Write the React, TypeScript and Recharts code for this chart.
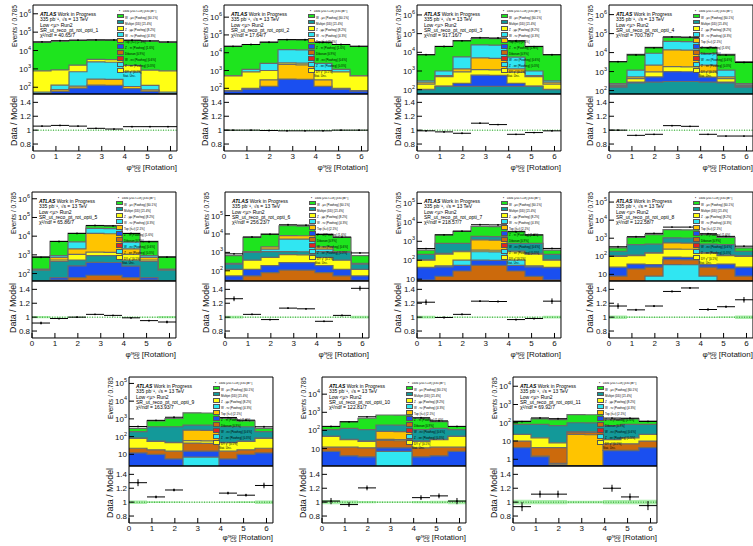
import React from 'react'
import { ComposedChart, Area, Scatter, ErrorBar, XAxis, YAxis, ReferenceLine } from 'recharts'

const TAU = 2 * Math.PI
const BIN = TAU / 8
const EDGES = Array.from({ length: 9 }, (_, i) => i * BIN)
const CENTERS = Array.from({ length: 8 }, (_, i) => (i + 0.5) * BIN)
const X_MAJOR = [0, 1, 2, 3, 4, 5, 6]
const X_MINOR = Array.from({ length: 32 }, (_, i) => i * 0.2)
const R_MAJOR = [0.8, 1, 1.2, 1.4]
const R_MINOR = Array.from({ length: 17 }, (_, i) => 0.7 + i * 0.05)
const R_DOMAIN = [0.7, 1.52]

const COLORS: Record<string, string> = {
  green: '#1ee41e',
  cyan: '#30e6f2',
  gold: '#ffc400',
  yellow: '#ffff14',
  blue: '#1a4ff0',
  teal: '#139999',
  orange: '#cc6a0c',
  red: '#e02222',
}

const CHI2 = ['40.65/7', '17.64/7', '917.16/7', '700.78/7', '65.86/7', '256.23/7', '218.57/7', '122.58/7', '163.93/7', '122.81/7', '69.92/7']

// stack tops per layer, bottom -> top
const P1_ORDER = ['blue', 'gold', 'cyan', 'yellow', 'green']
const P1_TOPS = [
  [44, 60, 90, 130, 125, 85, 60, 44],
  [48, 75, 115, 280, 270, 110, 72, 48],
  [55, 130, 700, 2400, 2300, 680, 125, 55],
  [780, 880, 1600, 3300, 3200, 1550, 860, 780],
  [28000, 32000, 35000, 37000, 37000, 35000, 32000, 28000],
]
const P2_ORDER = ['blue', 'gold', 'yellow', 'cyan', 'green']
const P2_TOPS = [
  [70, 90, 130, 330, 320, 130, 90, 70],
  [75, 100, 300, 2200, 2100, 300, 100, 75],
  [500, 840, 1000, 2700, 2600, 1000, 840, 500],
  [520, 1150, 2500, 15000, 14500, 2500, 1150, 520],
  [23000, 29000, 39000, 55000, 54000, 39000, 29000, 23000],
]
const P3_ORDER = ['teal', 'blue', 'yellow', 'gold', 'cyan', 'green']
const P3_TOPS = [
  [100, 150, 150, 150, 150, 150, 150, 100],
  [105, 155, 220, 600, 580, 220, 155, 105],
  [200, 500, 890, 1200, 1150, 870, 500, 200],
  [250, 560, 1300, 5000, 4800, 1300, 560, 250],
  [300, 1000, 5700, 25000, 24000, 5600, 1000, 300],
  [7500, 21000, 43000, 55000, 54000, 43000, 21000, 7500],
]
const P4_ORDER = ['teal', 'blue', 'yellow', 'gold', 'cyan', 'green']
const P4_TOPS = [
  [150, 250, 280, 300, 300, 280, 250, 150],
  [160, 280, 520, 1000, 980, 510, 280, 160],
  [185, 420, 960, 1800, 1750, 950, 420, 185],
  [200, 520, 2200, 14000, 13500, 2200, 520, 200],
  [230, 1200, 9200, 39000, 38000, 9000, 1200, 230],
  [3300, 8100, 19000, 63000, 62000, 19000, 8100, 3300],
]
const P5_ORDER = ['orange', 'blue', 'teal', 'yellow', 'gold', 'cyan', 'green']
const P5_TOPS = [
  [38, 45, 60, 80, 80, 60, 45, 38],
  [40, 60, 260, 400, 390, 250, 60, 40],
  [150, 450, 530, 920, 900, 520, 450, 150],
  [155, 530, 1050, 1400, 1350, 1050, 530, 155],
  [165, 740, 2100, 14000, 13500, 2100, 740, 165],
  [175, 900, 4900, 26000, 25000, 4800, 900, 175],
  [810, 5300, 14000, 36000, 35000, 14000, 5300, 810],
]
const P6_ORDER = ['orange', 'blue', 'yellow', 'teal', 'cyan', 'gold', 'green']
const P6_TOPS = [
  [30, 53, 80, 110, 108, 80, 53, 30],
  [53, 120, 190, 280, 275, 190, 120, 53],
  [120, 380, 530, 750, 740, 530, 380, 120],
  [230, 1000, 1100, 1100, 1080, 1100, 1000, 230],
  [240, 1050, 1500, 5300, 5200, 1500, 1050, 240],
  [250, 1100, 2000, 8100, 8000, 2000, 1100, 250],
  [660, 6600, 10000, 28000, 27000, 10000, 6600, 660],
]
const P7_ORDER = ['orange', 'blue', 'cyan', 'yellow', 'gold', 'teal', 'green']
const P7_TOPS = [
  [9, 14, 27, 54, 53, 27, 14, 9],
  [40, 45, 54, 100, 98, 54, 45, 40],
  [42, 50, 100, 280, 275, 100, 50, 42],
  [100, 210, 280, 340, 335, 280, 210, 100],
  [105, 230, 300, 1200, 1150, 300, 230, 105],
  [205, 780, 780, 1800, 1750, 780, 780, 205],
  [340, 2200, 3300, 6100, 6000, 3300, 2200, 340],
]
const P8_ORDER = ['cyan', 'orange', 'blue', 'yellow', 'gold', 'teal', 'green']
const P8_TOPS = [
  [4.3, 4.3, 8, 35, 34, 8, 4.3, 4.3],
  [8, 20, 25, 65, 64, 25, 20, 8],
  [25, 37, 35, 90, 88, 35, 37, 25],
  [100, 110, 150, 250, 245, 150, 110, 100],
  [105, 115, 160, 550, 540, 160, 115, 105],
  [190, 440, 470, 1050, 1030, 470, 440, 190],
  [290, 1100, 1600, 3000, 2900, 1600, 1100, 290],
]
const P9_ORDER = ['cyan', 'blue', 'orange', 'yellow', 'gold', 'teal', 'green']
const P9_TOPS = [
  [2.2, 2.2, 2.2, 7, 7, 2.2, 2.2, 2.2],
  [12, 10, 5.5, 15, 15, 5.5, 10, 12],
  [22, 18, 15, 43, 42, 15, 18, 22],
  [80, 53, 46, 60, 58, 46, 53, 80],
  [82, 55, 48, 230, 225, 48, 55, 82],
  [190, 360, 360, 450, 440, 360, 360, 190],
  [290, 770, 1050, 2200, 2150, 1050, 770, 290],
]
const P10_ORDER = ['cyan', 'blue', 'orange', 'yellow', 'gold', 'teal', 'green']
const P10_TOPS = [
  [1.1, 1.1, 1.1, 7, 7, 1.1, 1.1, 1.1],
  [7, 4, 3.5, 11, 11, 3.5, 4, 7],
  [12, 12, 11, 28, 27, 11, 12, 12],
  [47, 31, 25, 32, 31, 25, 31, 47],
  [48, 32, 26, 88, 86, 26, 32, 48],
  [110, 130, 110, 200, 195, 110, 130, 110],
  [165, 310, 470, 710, 700, 470, 310, 165],
]
const P11_ORDER = ['blue', 'gold', 'orange', 'yellow', 'teal', 'green']
const P11_TOPS = [
  [4.3, 1.4, 0.5, 0.45, 0.45, 3, 3, 4.3],
  [4.4, 1.5, 0.6, 23, 22, 3.1, 3.1, 4.4],
  [10, 4.3, 4.3, 31, 30, 7, 7, 10],
  [23, 15, 8, 33, 32, 12, 15, 23],
  [81, 81, 70, 100, 98, 70, 81, 81],
  [124, 165, 150, 280, 275, 150, 165, 124],
]

// data / model
const P1_RATIO = [1.058, 1.068, 1.058, 1.026, 1.016, 1.05, 1.05, 1.05]
const P2_RATIO = [1.0, 1.0, 0.995, 0.99, 0.99, 0.99, 1.0, 1.0]
const P3_RATIO = [0.99, 0.975, 0.955, 1.1, 1.08, 0.94, 0.965, 0.99]
const P4_RATIO = [1.0, 0.925, 0.94, 1.065, 1.055, 0.94, 0.915, 0.915]
const P5_RATIO = [0.915, 0.98, 1.0, 1.04, 1.025, 0.99, 0.95, 0.93]
const P6_RATIO = [1.265, 1.04, 0.965, 1.13, 1.12, 0.94, 1.025, 1.415]
const P7_RATIO = [1.215, 0.995, 1.04, 1.23, 1.225, 0.965, 0.98, 1.23]
const P8_RATIO = [1.16, 1.105, 1.16, 1.37, 1.42, 1.11, 1.15, 1.25]
const P9_RATIO = [1.28, 1.075, 1.175, null, null, 1.13, 1.1, 1.24]
const P10_RATIO = [1.015, 0.965, 1.205, null, null, 1.065, 1.09, 1.015]
const P11_RATIO = [0.935, 1.115, 1.115, null, null, 1.2, 1.075, 0.95]

const SMALL_ERR = [0.004, 0.004, 0.004, 0.004, 0.004, 0.004, 0.004, 0.004]
const P5_ERR = [0.02, 0.01, 0.008, 0.006, 0.006, 0.008, 0.01, 0.02]
const P6_ERR = [0.035, 0.01, 0.01, 0.008, 0.008, 0.01, 0.01, 0.035]
const P7_ERR = [0.04, 0.012, 0.012, 0.01, 0.01, 0.012, 0.012, 0.04]
const P8_ERR = [0.04, 0.015, 0.015, 0.012, 0.012, 0.015, 0.015, 0.04]
const P9_ERR = [0.05, 0.02, 0.02, 0, 0, 0.02, 0.02, 0.04]
const P10_ERR = [0.045, 0.035, 0.035, 0, 0, 0.035, 0.035, 0.045]
const P11_ERR = [0.065, 0.05, 0.05, 0, 0, 0.05, 0.05, 0.065]

// MC uncertainty half-width around 1
const THIN_BAND = [0.003, 0.003, 0.003, 0.003, 0.003, 0.003, 0.003, 0.003]
const P5_BAND = [0.015, 0.005, 0.004, 0.003, 0.003, 0.004, 0.005, 0.015]
const P6_BAND = [0.02, 0.006, 0.005, 0.004, 0.004, 0.005, 0.006, 0.02]
const P7_BAND = [0.02, 0.006, 0.005, 0.004, 0.004, 0.005, 0.006, 0.02]
const P8_BAND = [0.025, 0.008, 0.007, 0.005, 0.005, 0.007, 0.008, 0.025]
const P9_BAND = [0.025, 0.012, 0.01, 0.006, 0.006, 0.01, 0.012, 0.025]
const P10_BAND = [0.03, 0.025, 0.015, 0.01, 0.01, 0.015, 0.02, 0.03]
const P11_BAND = [0.035, 0.03, 0.03, 0.02, 0.02, 0.03, 0.03, 0.035]

const Y_DOMAINS = [
  [43, 3e6], [48, 4.8e6], [59, 3.4e6], [66, 3.2e6],
  [40, 2.3e6], [28, 1.9e6], [8, 4e5], [4.3, 3.6e5],
  [2.2, 2.3e5], [1.1, 8.8e4], [0.43, 3.2e4],
]
const Y_TICKS = [
  [1e2, 1e3, 1e4, 1e5, 1e6], [1e2, 1e3, 1e4, 1e5, 1e6], [1e2, 1e3, 1e4, 1e5, 1e6], [1e2, 1e3, 1e4, 1e5, 1e6],
  [1e2, 1e3, 1e4, 1e5, 1e6], [1e2, 1e3, 1e4, 1e5], [10, 1e2, 1e3, 1e4, 1e5], [10, 1e2, 1e3, 1e4, 1e5],
  [10, 1e2, 1e3, 1e4, 1e5], [10, 1e2, 1e3, 1e4], [1, 10, 1e2, 1e3, 1e4],
]

const LEGEND_NAMES = [
  'W→μν (Powheg) [60.1%]', 'Multijet (DD) [21.4%]', 'Z→μμ (Powheg) [8.2%]', 'W→τν (Powheg) [4.3%]',
  'Top (tt̄+t) [2.1%]', 'Z→ττ (Powheg) [1.6%]', 'Diboson [0.9%]', 'W→eν (Powheg) [0.6%]',
  'Z→ee (Powheg) [0.3%]', 'DY γ* [0.1%]',
]
const LEGEND_KEYS = ['green', 'teal', 'yellow', 'cyan', 'gold', 'blue', 'orange', 'red', 'cyan', 'yellow']

const PANELS = [
  { order: P1_ORDER, tops: P1_TOPS, ratio: P1_RATIO, err: SMALL_ERR, band: THIN_BAND },
  { order: P2_ORDER, tops: P2_TOPS, ratio: P2_RATIO, err: SMALL_ERR, band: THIN_BAND },
  { order: P3_ORDER, tops: P3_TOPS, ratio: P3_RATIO, err: SMALL_ERR, band: THIN_BAND },
  { order: P4_ORDER, tops: P4_TOPS, ratio: P4_RATIO, err: SMALL_ERR, band: THIN_BAND },
  { order: P5_ORDER, tops: P5_TOPS, ratio: P5_RATIO, err: P5_ERR, band: P5_BAND },
  { order: P6_ORDER, tops: P6_TOPS, ratio: P6_RATIO, err: P6_ERR, band: P6_BAND },
  { order: P7_ORDER, tops: P7_TOPS, ratio: P7_RATIO, err: P7_ERR, band: P7_BAND },
  { order: P8_ORDER, tops: P8_TOPS, ratio: P8_RATIO, err: P8_ERR, band: P8_BAND },
  { order: P9_ORDER, tops: P9_TOPS, ratio: P9_RATIO, err: P9_ERR, band: P9_BAND },
  { order: P10_ORDER, tops: P10_TOPS, ratio: P10_RATIO, err: P10_ERR, band: P10_BAND },
  { order: P11_ORDER, tops: P11_TOPS, ratio: P11_RATIO, err: P11_ERR, band: P11_BAND },
]

// frame top-left of each panel
const POS = [
  [33, 5], [224, 5], [417, 5], [609, 5],
  [32, 192], [225, 192], [417, 192], [609, 192],
  [129, 377], [322, 377], [513, 377],
]

const FW = 144
const MH = 89
const RH = 57
const ML = 34
const MR = 4
const MB = 6
const PAGE_H = 546
const FONT = '"Liberation Sans", Arial, Helvetica, sans-serif'
const AX = { stroke: '#000', strokeWidth: 1 }

function logMinor(d: number[]) {
  const out: number[] = []
  for (let k = Math.floor(Math.log10(d[0])); k <= Math.ceil(Math.log10(d[1])); k++) {
    for (let m = 2; m <= 9; m++) {
      const v = m * 10 ** k
      if (v > d[0] && v < d[1]) out.push(v)
    }
  }
  return out
}

function LogTick({ x, y, payload }: any) {
  const e = Math.round(Math.log10(payload.value))
  return (
    <text x={x} y={y + 3} textAnchor="end" fontSize={8} fill="#111" fontFamily={FONT}>
      {e === 0 ? '1' : '10'}
      {e > 1 && <tspan dy={-4} fontSize={5.5}>{e}</tspan>}
    </text>
  )
}

function RatioTick({ x, y, payload }: any) {
  return (
    <text x={x} y={y + 3} textAnchor="end" fontSize={8} fill="#111" fontFamily={FONT}>
      {String(+payload.value.toFixed(1))}
    </text>
  )
}

function XTick({ x, y, payload }: any) {
  return (
    <text x={x} y={y + 6} textAnchor="middle" fontSize={8} fill="#111" fontFamily={FONT}>
      {payload.value}
    </text>
  )
}

function frame(yDom: number[], yScale: 'log' | 'linear', yMajor: number[], yMinor: number[], xTick: any, yTick: any) {
  const xc = { type: 'number' as const, domain: [0, TAU], allowDataOverflow: true, interval: 0 as const, height: 0.01, tickLine: AX }
  const yc = { type: 'number' as const, domain: yDom, scale: yScale, allowDataOverflow: true, interval: 0 as const, width: 0.01, tickLine: AX }
  return [
    <XAxis key="b" xAxisId="b" dataKey="x" {...xc} ticks={X_MAJOR} tickSize={-5} tickMargin={7} tick={xTick} axisLine={AX} />,
    <XAxis key="bm" xAxisId="bm" {...xc} ticks={X_MINOR} tickSize={-2.5} tick={false} axisLine={false} />,
    <XAxis key="t" xAxisId="t" orientation="top" {...xc} ticks={X_MAJOR} tickSize={-5} tick={false} axisLine={AX} />,
    <XAxis key="tm" xAxisId="tm" orientation="top" {...xc} ticks={X_MINOR} tickSize={-2.5} tick={false} axisLine={false} />,
    <YAxis key="l" yAxisId="l" dataKey="y" {...yc} ticks={yMajor} tickSize={-5} tickMargin={7} tick={yTick} axisLine={AX} />,
    <YAxis key="lm" yAxisId="lm" {...yc} ticks={yMinor} tickSize={-2.5} tick={false} axisLine={false} />,
    <YAxis key="r" yAxisId="r" orientation="right" {...yc} ticks={yMajor} tickSize={-5} tick={false} axisLine={AX} />,
    <YAxis key="rm" yAxisId="rm" orientation="right" {...yc} ticks={yMinor} tickSize={-2.5} tick={false} axisLine={false} />,
  ]
}

const dotShape = (p: any) => <circle cx={p.cx} cy={p.cy} r={0.9} fill="#000" />

function VLabel({ left, top, text, size, length }: { left: number; top: number; text: string; size: number; length: number }) {
  return (
    <svg style={{ position: 'absolute', left: left - 3, top: top - 4, overflow: 'visible' }} width={18} height={length + 10}>
      <text transform="rotate(-90)" x={-4} y={12} textAnchor="end" fontSize={size} fill="#111" fontFamily={FONT} textLength={length} lengthAdjust="spacingAndGlyphs">
        {text}
      </text>
    </svg>
  )
}

function Panel({ i }: { i: number }) {
  const p = PANELS[i]
  const [fx, fy] = POS[i]
  const yDom = Y_DOMAINS[i]
  const total = p.tops[p.tops.length - 1]
  const rows = EDGES.map((x, k) => {
    const b = Math.min(k, 7)
    const r: Record<string, any> = { x, band: [1 - p.band[b], 1 + p.band[b]] }
    p.tops.forEach((t, j) => {
      r['L' + j] = t[b]
    })
    return r
  })
  const dataPts = CENTERS.map((x, b) => ({ x, ex: BIN / 2, r: p.ratio[b], y: p.ratio[b] == null ? 0 : total[b] * (p.ratio[b] as number) })).filter(d => d.r != null)
  const ratioPts = CENTERS.map((x, b) => ({ x, ex: BIN / 2, y: p.ratio[b], ey: p.err[b] })).filter(d => d.y != null)
  const layers = p.tops.map((_, j) => j).reverse()
  const lines = ['335 pb⁻¹, √s = 13 TeV', 'Low <μ> Run2', `SR_ut_reco_pt_rot_opti_${i + 1}`, `χ²/ndf = ${CHI2[i]}`]
  const titleTop = Math.min(fy + MH + RH + 13, PAGE_H - 12)

  return (
    <>
      <div style={{ position: 'absolute', left: fx - ML, top: fy - 3 }}>
        <ComposedChart width={ML + FW + MR} height={MH + 3 + MB} data={rows} margin={{ top: 3, right: MR, bottom: MB, left: ML }}>
          {frame(yDom, 'log', Y_TICKS[i], logMinor(yDom), false, <LogTick />)}
          {layers.map(j => (
            <Area
              key={j}
              type="stepAfter"
              dataKey={'L' + j}
              xAxisId="b"
              yAxisId="l"
              baseValue={yDom[0]}
              fill={COLORS[p.order[j]]}
              fillOpacity={1}
              stroke="#6a6a6a"
              strokeWidth={1.2}
              dot={false}
              activeDot={false}
              isAnimationActive={false}
            />
          ))}
          <Scatter data={dataPts} dataKey="y" xAxisId="b" yAxisId="l" shape={dotShape} isAnimationActive={false}>
            <ErrorBar dataKey="ex" direction="x" width={0} stroke="#000" strokeWidth={1} />
          </Scatter>
        </ComposedChart>
      </div>
      <div style={{ position: 'absolute', left: fx - ML, top: fy + MH - 1 }}>
        <ComposedChart width={ML + FW + MR} height={RH + 15} data={rows} margin={{ top: 1, right: MR, bottom: 14, left: ML }}>
          {frame(R_DOMAIN, 'linear', R_MAJOR, R_MINOR, <XTick />, <RatioTick />)}
          <Area type="stepAfter" dataKey="band" xAxisId="b" yAxisId="l" fill="#8fe88f" fillOpacity={0.75} stroke="none" dot={false} activeDot={false} isAnimationActive={false} />
          <ReferenceLine y={1} xAxisId="b" yAxisId="l" stroke="#1a9a1a" strokeDasharray="1 1.5" strokeWidth={1} />
          <Scatter data={ratioPts} dataKey="y" xAxisId="b" yAxisId="l" shape={dotShape} isAnimationActive={false}>
            <ErrorBar dataKey="ex" direction="x" width={0} stroke="#000" strokeWidth={1} />
            <ErrorBar dataKey="ey" direction="y" width={0} stroke="#000" strokeWidth={1} />
          </Scatter>
        </ComposedChart>
      </div>

      {/* axis titles */}
      <VLabel left={fx - 25} top={fy} text="Events / 0.785" size={7.5} length={42} />
      <VLabel left={fx - 25} top={fy + MH + 2} text="Data / Model" size={8.5} length={50} />
      <div style={{ position: 'absolute', left: fx, width: FW, top: titleTop, textAlign: 'right', fontSize: 8, color: '#111', whiteSpace: 'nowrap', lineHeight: 1 }}>
        φ
        <span style={{ display: 'inline-flex', flexDirection: 'column', fontSize: 4.5, lineHeight: '4.5px', verticalAlign: 2.5 }}>
          <span>reco</span>
          <span>CS</span>
        </span>{' '}
        [Rotation]
      </div>

      {/* header */}
      <div style={{ position: 'absolute', left: fx + 7, top: fy + 7, fontSize: 5, lineHeight: '5.3px', color: '#000', whiteSpace: 'nowrap' }}>
        <div>
          <b>
            <i>ATLAS</i>
          </b>{' '}
          Work in Progress
        </div>
        {lines.map(t => (
          <div key={t}>{t}</div>
        ))}
      </div>

      {/* legend */}
      <div style={{ position: 'absolute', left: fx + 84, top: fy + 5, width: 58, overflow: 'hidden', fontSize: 2.9, lineHeight: '3.6px', color: '#000', whiteSpace: 'nowrap' }}>
        <div>
          <span style={{ display: 'inline-block', width: 5, marginRight: 1, textAlign: 'center', fontWeight: 700 }}>•</span>Data (2017+18) [335 pb⁻¹]
        </div>
        {LEGEND_KEYS.map((k, j) => (
          <div key={j}>
            <span style={{ display: 'inline-block', width: 5, height: 2.8, background: COLORS[k], border: '0.4px solid #555', verticalAlign: -0.3, marginRight: 1 }} />
            {LEGEND_NAMES[j]}
          </div>
        ))}
        <div style={{ marginLeft: 6 }}>Stat. Unc.</div>
      </div>
    </>
  )
}

export default function App() {
  return (
    <div style={{ position: 'absolute', left: 0, top: 0, width: 753, height: PAGE_H, overflow: 'hidden', background: '#fff', fontFamily: FONT }}>
      {PANELS.map((_, i) => (
        <Panel key={i} i={i} />
      ))}
    </div>
  )
}
